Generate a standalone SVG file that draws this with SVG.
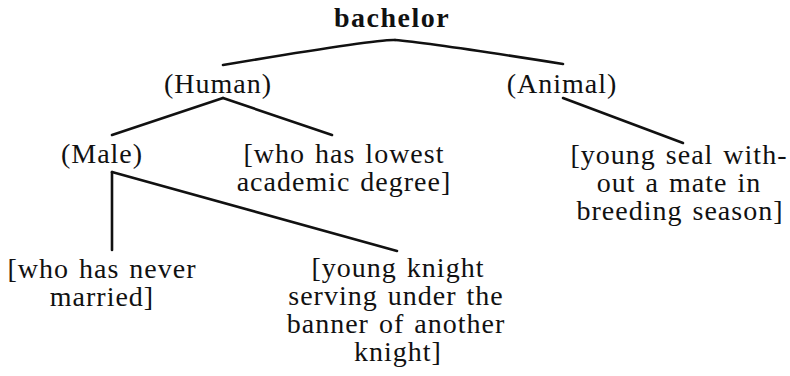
<svg xmlns="http://www.w3.org/2000/svg" width="790" height="376" viewBox="0 0 790 376">
<style>
text{font-family:"Liberation Serif","DejaVu Serif",serif;font-size:28px;fill:#111;text-anchor:middle;letter-spacing:1px;word-spacing:2px}
.b{font-weight:bold;letter-spacing:1.5px}
.e{stroke:#111;stroke-width:2.6;fill:none;stroke-linecap:round}
</style>
<rect width="790" height="376" fill="#fff"/>
<g id="connectors">
<path class="e" d="M395,40 C380,39 300,52 223,65"/>
<path class="e" d="M395,40 C420,42 500,54 563,64"/>
<path class="e" d="M223,98 L112,135"/>
<path class="e" d="M223,98 L332,135"/>
<path class="e" d="M563,98 L683,143"/>
<path class="e" d="M112,172 L112,250"/>
<path class="e" d="M112,172 L397,251"/>
</g>
<g id="bachelor"><text class="b" x="392" y="27">bachelor</text></g>
<g id="human"><text x="218" y="93">(Human)</text></g>
<g id="animal"><text x="562" y="93">(Animal)</text></g>
<g id="male"><text x="102" y="163">(Male)</text></g>
<g id="lowest"><text x="344" y="163">[who has lowest</text><text x="344" y="191">academic degree]</text></g>
<g id="seal"><text x="679" y="164">[young seal with-</text><text x="679" y="192">out a mate in</text><text x="680" y="220">breeding season]</text></g>
<g id="never"><text x="102" y="278">[who has never</text><text x="102" y="306">married]</text></g>
<g id="knight"><text x="398" y="277">[young knight</text><text x="396" y="305">serving under the</text><text x="396" y="333">banner of another</text><text x="398" y="361">knight]</text></g>
</svg>
